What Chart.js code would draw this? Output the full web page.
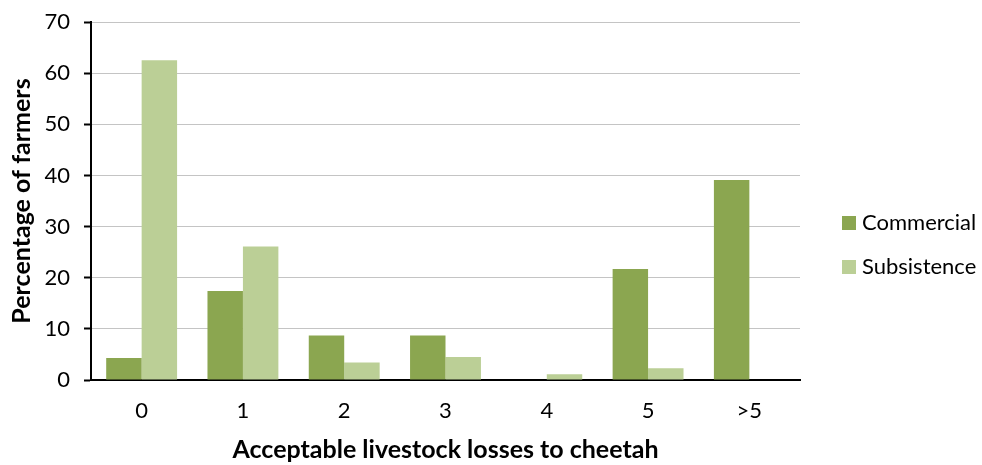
<!DOCTYPE html>
<html>
<head>
<meta charset="utf-8">
<script src="https://cdn.jsdelivr.net/npm/chart.js@4"></script>
<style>
  html, body { margin: 0; padding: 0; background: #fff; }
  #wrap { width: 982px; height: 465px; position: relative; }
</style>
</head>
<body>
<div id="wrap"><canvas id="chart" width="982" height="465"></canvas></div>
<script>
// Acceptable livestock losses to cheetah, % of farmers per group
const categories = ['0', '1', '2', '3', '4', '5', '>5'];
const commercial = [4.3, 17.4, 8.7, 8.7, 0, 21.7, 39.1];
const subsistence = [62.5, 26.1, 3.4, 4.5, 1.1, 2.3, 0];
const seriesNames = ['Commercial', 'Subsistence'];
const seriesColors = ['#8BA650', '#BBCF96'];

const FONT = 'Lato, "Open Sans", sans-serif';

// Legend drawn at the right of the plot, one entry per dataset
const sideLegend = {
  id: 'sideLegend',
  afterDraw(chart, args, opts) {
    const ctx = chart.ctx;
    ctx.save();
    ctx.font = opts.size + 'px ' + FONT;
    ctx.textBaseline = 'middle';
    ctx.textAlign = 'left';
    chart.data.datasets.forEach((ds, i) => {
      const y = opts.top + i * opts.gap;
      ctx.fillStyle = ds.backgroundColor;
      ctx.fillRect(opts.left, y, opts.box, opts.box);
      ctx.fillStyle = '#000';
      ctx.fillText(ds.label, opts.left + opts.box + 6, y + opts.box / 2);
    });
    ctx.restore();
  }
};

new Chart(document.getElementById('chart'), {
  type: 'bar',
  data: {
    labels: categories,
    datasets: [
      { label: seriesNames[0], data: commercial, backgroundColor: seriesColors[0] },
      { label: seriesNames[1], data: subsistence, backgroundColor: seriesColors[1] }
    ]
  },
  plugins: [sideLegend],
  options: {
    responsive: false,
    animation: false,
    devicePixelRatio: 1,
    layout: { padding: { top: 22, right: 182, left: 0, bottom: 0 } },
    datasets: { bar: { categoryPercentage: 0.7, barPercentage: 1.0 } },
    plugins: {
      legend: { display: false },
      tooltip: { enabled: false },
      sideLegend: { left: 842, top: 216, gap: 44, box: 14, size: 22 }
    },
    scales: {
      x: {
        grid: { display: false, drawTicks: false },
        border: { display: true, color: '#000', width: 2 },
        ticks: { color: '#000', font: { family: FONT, size: 22 }, padding: 18 },
        title: {
          display: true,
          text: 'Acceptable livestock losses to cheetah',
          color: '#000',
          font: { family: FONT, size: 25, weight: 'bold' },
          padding: { top: 0, bottom: 0 }
        },
        afterFit(scale) { scale.height = 85; }
      },
      y: {
        min: 0,
        max: 70,
        ticks: { stepSize: 10, color: '#000', font: { family: FONT, size: 22 }, padding: 14 },
        grid: { color: '#c4c4c4', lineWidth: 1, tickColor: '#000', tickLength: 7, tickWidth: 2 },
        border: { display: true, color: '#000', width: 2 },
        title: {
          display: true,
          text: 'Percentage of farmers',
          color: '#000',
          font: { family: FONT, size: 25, weight: 'bold' },
          padding: { top: 7, bottom: 0 }
        },
        afterFit(scale) {
          scale.width = 91;
          scale.paddingTop = 0;
          scale.paddingBottom = 0;
        }
      }
    }
  }
});
</script>
</body>
</html>
